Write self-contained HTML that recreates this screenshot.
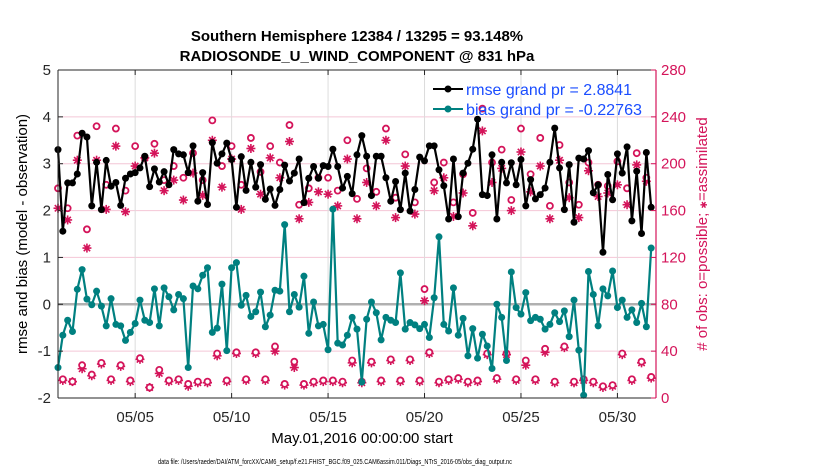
<!DOCTYPE html>
<html><head><meta charset="utf-8"><style>
html,body{margin:0;padding:0;background:#fff;}
svg{display:block;font-family:"Liberation Sans",Arial,sans-serif;}
</style></head><body>
<svg id="chart" width="830" height="470" viewBox="0 0 830 470" xmlns="http://www.w3.org/2000/svg">
<text x="357" y="41" text-anchor="middle" font-size="15" font-weight="bold">Southern Hemisphere 12384 / 13295 = 93.148%</text>
<text x="357" y="61" text-anchor="middle" font-size="15" font-weight="bold">RADIOSONDE_U_WIND_COMPONENT @ 831 hPa</text>
<g id="grid"></g>
<g id="marks"></g>
<g id="axes"></g>
<text transform="translate(27,234) rotate(-90)" text-anchor="middle" font-size="15">rmse and bias (model - observation)</text>
<text transform="translate(707,234) rotate(-90)" text-anchor="middle" font-size="15" fill="#d4145a"># of obs: o=possible; <tspan font-size="9">✱</tspan>=assimilated</text>
<text x="362" y="443" text-anchor="middle" font-size="15">May.01,2016 00:00:00 start</text>
<text x="158" y="464" font-size="7" textLength="354" lengthAdjust="spacingAndGlyphs">data file: /Users/raeder/DAI/ATM_forcXX/CAM6_setup/f.e21.FHIST_BGC.f09_025.CAM6assim.011/Diags_NTrS_2016-05/obs_diag_output.nc</text>
<g>
<g>
<line x1="433" y1="89" x2="463" y2="89" stroke="#000" stroke-width="2"/><circle cx="448" cy="89" r="3.5" fill="#000"/>
<text x="466" y="95" font-size="16" fill="#1a4dff" textLength="166" lengthAdjust="spacingAndGlyphs">rmse grand pr = 2.8841</text></g>
<g>
<line x1="433" y1="109" x2="463" y2="109" stroke="#008080" stroke-width="2"/><circle cx="448" cy="109" r="3.5" fill="#008080"/>
<text x="466" y="115" font-size="16" fill="#1a4dff" textLength="176" lengthAdjust="spacingAndGlyphs">bias grand pr = -0.22763</text></g>
</g>
</svg>
<script>
const rmse = [3.30,1.56,2.59,2.59,2.78,3.65,3.57,2.10,3.03,2.02,3.07,2.52,2.60,2.11,2.69,2.78,2.81,2.91,3.16,2.51,2.89,2.61,2.83,2.55,3.30,3.21,3.19,2.81,3.38,2.20,2.81,2.13,
3.45,3.01,3.21,3.44,3.09,2.07,3.15,2.43,3.03,2.50,2.98,2.24,2.46,2.11,2.45,2.97,2.63,2.80,3.10,2.17,2.69,2.94,2.69,2.96,2.94,3.31,2.94,2.48,2.73,2.36,3.19,3.60,
3.16,2.32,3.16,3.16,2.70,2.20,2.62,2.02,2.80,1.99,2.45,3.14,3.06,3.38,3.38,2.87,2.53,1.82,3.10,1.87,2.80,3.01,3.31,3.95,2.34,2.32,3.19,1.82,3.03,2.59,
3.02,2.55,3.09,2.10,2.66,2.25,2.34,2.48,3.03,3.76,2.91,2.02,2.98,1.75,3.12,3.10,3.28,2.38,2.55,1.11,2.77,2.23,3.21,2.80,3.36,1.78,2.84,1.51,3.24,2.07];
const bias = [-1.35,-0.66,-0.34,-0.58,0.32,0.74,0.11,-0.01,0.28,-0.04,-0.46,0.12,-0.43,-0.46,-0.77,-0.60,-0.41,0.09,-0.34,-0.39,0.33,-0.46,0.35,0.16,-0.12,0.21,0.12,-1.35,0.39,0.33,0.62,0.78,
-0.60,-0.51,0.43,-0.99,0.78,0.89,-0.02,0.19,-0.26,-0.16,0.26,-0.48,-0.23,0.30,0.28,1.70,-0.16,0.21,-0.06,0.60,-0.62,0.05,-0.46,-0.43,-0.97,2.03,-0.83,-0.87,-0.66,-0.28,-0.53,-1.66,
-0.32,0.05,-0.18,-0.76,-0.28,-0.34,-0.39,0.67,-0.53,-0.39,-0.44,-0.52,-0.43,-0.71,0.14,1.44,-0.43,-0.57,0.35,-0.66,-0.30,-1.10,-0.52,-1.15,-0.64,-0.89,-1.37,0.00,-0.28,-1.20,
0.69,-0.07,-0.21,0.25,-0.35,-0.28,-0.32,-0.53,-0.43,-0.18,-0.37,-0.14,-0.69,0.09,-0.98,-1.94,0.70,0.21,-0.46,0.33,0.18,0.71,-0.07,0.09,-0.28,-0.12,-0.39,0.02,-0.48,1.20];
const possible = [179,16,162,14,224,28,144,20,232,30,182,16,230,28,177,15,215,34,205,9,217,24,186,15,198,16,188,12,209,14,186,14,
237,38,198,15,215,39,182,16,222,39,193,16,215,44,201,12,233,31,165,12,179,14,188,15,188,15,177,14,220,32,170,14,
196,31,176,15,230,33,171,15,208,33,167,15,93,39,184,14,201,16,167,17,191,14,158,15,247,38,201,17,212,38,
169,16,230,32,191,16,222,42,164,14,216,44,184,14,165,16,201,14,182,10,181,11,202,38,179,16,209,31,188,18];
const assimilated = [162,15,152,14,203,25,128,19,203,29,161,15,215,27,159,14,198,33,205,9,209,21,177,14,186,15,169,10,192,13,173,13,
220,36,180,14,204,38,161,15,213,38,174,15,205,40,188,11,219,26,153,11,167,13,176,14,174,14,164,13,204,30,153,13,
184,30,164,14,220,32,154,14,198,32,157,14,83,38,177,13,188,15,155,16,175,13,147,14,228,37,184,16,196,37,
160,15,210,28,176,15,198,39,153,13,203,43,171,13,154,15,194,13,172,9,175,10,182,37,165,15,199,30,185,17];
const leftTicks = [-2,-1,0,1,2,3,4,5];
const rightTicks = [0,40,80,120,160,200,240,280];
const dateTickDays = [4,9,14,19,24,29];
const dateTickLabels = ["05/05","05/10","05/15","05/20","05/25","05/30"];

const X0=58, X1=656, Y0=70, Y1=398;
const xScale = d => X0 + (d/31)*(X1-X0);
const yL = v => Y1 - (v+2)/7*(Y1-Y0);
const yR = v => Y1 - v/280*(Y1-Y0);
const NS="http://www.w3.org/2000/svg";
function mk(tag, attrs, parent){const e=document.createElementNS(NS,tag);for(const k in attrs)e.setAttribute(k,attrs[k]);parent.appendChild(e);return e;}
const grid=document.getElementById('grid'), marks=document.getElementById('marks'), axes=document.getElementById('axes');
const MAG="#d4145a", TEAL="#008080";

leftTicks.forEach(v=>{
  if(v!==0 && v!==-2 && v!==5){
    const g=mk('line',{x1:X0,x2:X1,y1:yL(v),y2:yL(v),stroke:"#f4c6d6","stroke-width":1},grid);
    
    
  }
});
dateTickDays.forEach(d=>{
  const g=mk('line',{x1:xScale(d),x2:xScale(d),y1:Y0,y2:Y1,stroke:"#dcdcdc","stroke-width":1},grid);
  
  
});
const zl=mk('line',{x1:X0,x2:X1,y1:yL(0),y2:yL(0),stroke:"#b0b0b0","stroke-width":2.5},grid);



function star(cx,cy,parent){
  const g=mk('g',{stroke:MAG,"stroke-width":1.6},parent);
  
  
  const r=4.5;
  for(let a=0;a<4;a++){const t=a*Math.PI/4;mk('line',{x1:cx-r*Math.cos(t),y1:cy-r*Math.sin(t),x2:cx+r*Math.cos(t),y2:cy+r*Math.sin(t)},g);}
  mk('circle',{cx:cx,cy:cy,r:2.2,fill:MAG,stroke:"none"},g);
}
assimilated.forEach((v,i)=>star(xScale(i*0.25),yR(v),marks));
possible.forEach((v,i)=>{
  const c=mk('circle',{cx:xScale(i*0.25),cy:yR(v),r:3,fill:"#fff",stroke:MAG,"stroke-width":1.8},marks);
  
  
});

function series(arr,color,name){
  const pts=arr.map((v,i)=>xScale(i*0.25).toFixed(1)+","+yL(v).toFixed(1)).join(" ");
  const pl=mk('polyline',{points:pts,fill:"none",stroke:color,"stroke-width":2.2,"stroke-linejoin":"round"},marks);
  
  
  arr.forEach((v,i)=>{
    const c=mk('circle',{cx:xScale(i*0.25),cy:yL(v),r:3.5,fill:color},marks);
    
    
  });
}
series(bias,TEAL,'bias');
series(rmse,"#000",'rmse');

// axes
const lx=mk('line',{x1:X0,x2:X0,y1:Y0,y2:Y1,stroke:"#262626","stroke-width":1},axes);


const tx=mk('line',{x1:X0,x2:X1,y1:Y0,y2:Y0,stroke:"#262626","stroke-width":1},axes);


const bx=mk('line',{x1:X0,x2:X1,y1:Y1,y2:Y1,stroke:"#262626","stroke-width":1},axes);


const rx=mk('line',{x1:X1,x2:X1,y1:Y0,y2:Y1,stroke:MAG,"stroke-width":1.2},axes);


leftTicks.forEach(v=>{
  mk('line',{x1:X0,x2:X0+5,y1:yL(v),y2:yL(v),stroke:"#262626"},axes);
  const t=mk('text',{x:X0-7,y:yL(v)+5,"text-anchor":"end","font-size":15,fill:"#262626"},axes);
  t.textContent=v;
  
  
});
rightTicks.forEach(v=>{
  mk('line',{x1:X1-5,x2:X1,y1:yR(v),y2:yR(v),stroke:MAG},axes);
  const t=mk('text',{x:X1+5,y:yR(v)+5,"font-size":15,fill:MAG},axes);
  t.textContent=v;
  
  
});
dateTickDays.forEach((d,i)=>{
  mk('line',{x1:xScale(d),x2:xScale(d),y1:Y1,y2:Y1-5,stroke:"#262626"},axes);
  mk('line',{x1:xScale(d),x2:xScale(d),y1:Y0,y2:Y0+5,stroke:"#262626"},axes);
  const t=mk('text',{x:xScale(d),y:422,"text-anchor":"middle","font-size":15,fill:"#262626"},axes);
  t.textContent=dateTickLabels[i];
  
  
});
</script>
</body></html>
